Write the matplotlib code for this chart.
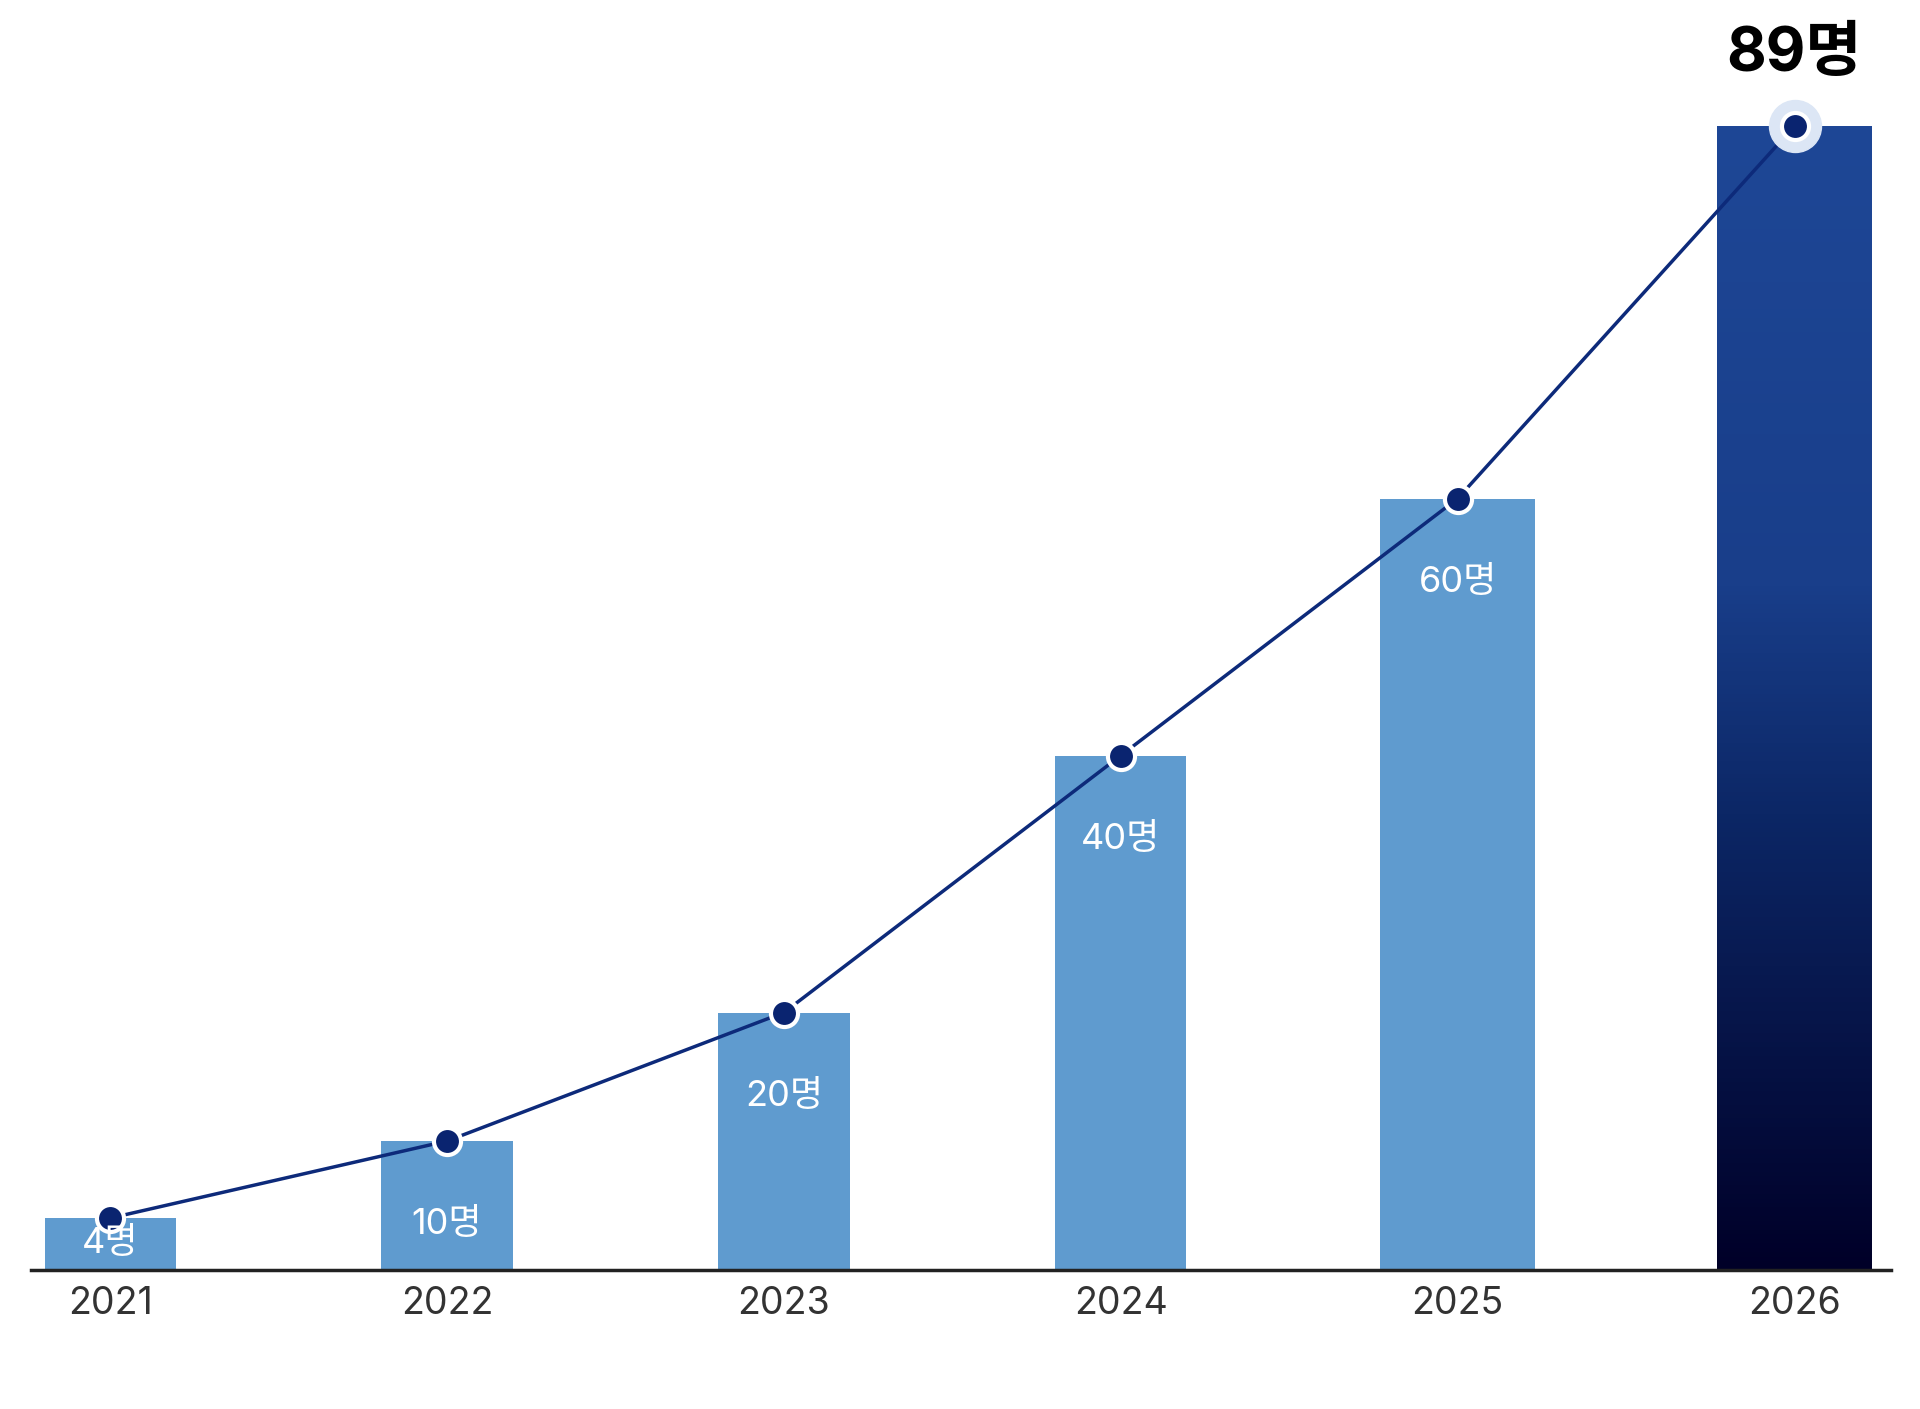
import numpy as np
import matplotlib.pyplot as plt
from matplotlib.colors import LinearSegmentedColormap

plt.rcParams['font.family'] = ['Inter', 'Noto Sans CJK KR', 'DejaVu Sans']

years = ['2021', '2022', '2023', '2024', '2025', '2026']
people = [4, 10, 20, 40, 60, 89]
labels = ['4명', '10명', '20명', '40명', '60명', '89명']
widths = [0.39, 0.39, 0.39, 0.39, 0.46, 0.46]

fig = plt.figure(figsize=(19.2, 14.09), dpi=100)
ax = fig.add_axes([0.016, 0.099, 0.969, 0.901])
x = np.arange(len(years))

bars = ax.bar(x[:-1], people[:-1], width=widths[:-1], color='#5f9bcf', zorder=2)

# last bar with vertical gradient
last = ax.bar(x[-1], people[-1], width=widths[-1], color='none', zorder=2)[0]
cmap = LinearSegmentedColormap.from_list('g', [(0, '#000028'), (0.4, '#0c2766'),
                                               (0.6, '#193e8a'), (1, '#1e4796')])
grad = np.linspace(0, 1, 256).reshape(-1, 1)
im = ax.imshow(grad, cmap=cmap, origin='lower', aspect='auto', zorder=2,
               extent=[x[-1] - widths[-1] / 2, x[-1] + widths[-1] / 2, 0, people[-1]])
im.set_clip_path(last)

ax.plot(x, people, color='#0d2a7a', lw=2.5, zorder=3)
ax.scatter(x[-1], people[-1], s=1400, color='#dce6f5', zorder=3)
ax.scatter(x, people, s=380, color='#0a2470', edgecolor='white', linewidth=3, zorder=4)

for i in range(len(years) - 1):
    y = 2.0 if i == 0 else people[i] - 6.5
    ax.text(x[i], y, labels[i], color='white', ha='center', va='center',
            fontsize=26, zorder=5)
ax.text(x[-1], people[-1] + 5.5, labels[-1], color='black', ha='center', va='center',
        fontsize=44, fontweight='bold', zorder=5)

ax.set_xlim(-0.236, 5.287)
ax.set_ylim(0, 98.8)
ax.set_xticks(x)
ax.set_xticklabels(years, fontsize=27, color='#333333')
ax.tick_params(axis='x', length=0, pad=12)
ax.set_yticks([])
for s in ['top', 'right', 'left']:
    ax.spines[s].set_visible(False)
ax.spines['bottom'].set_linewidth(2.5)
ax.spines['bottom'].set_color('#222222')

fig.savefig('out.png', dpi=100)
